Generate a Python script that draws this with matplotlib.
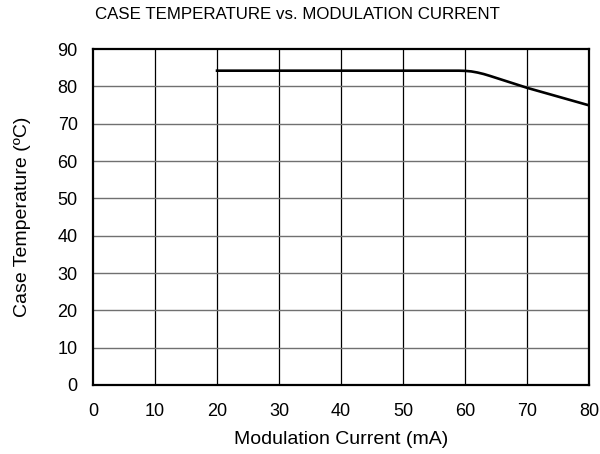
import matplotlib
matplotlib.use("Agg")
import matplotlib.pyplot as plt

# data
current_ma = [20, 59, 60, 61, 62, 63, 64, 70, 80]
case_temp_c = [84.2, 84.2, 84.15, 84.0, 83.7, 83.3, 82.8, 79.6, 74.9]

x_ticks = [0, 10, 20, 30, 40, 50, 60, 70, 80]
y_ticks = [0, 10, 20, 30, 40, 50, 60, 70, 80, 90]

plt.rcParams["font.family"] = ["Liberation Sans", "DejaVu Sans"]

fig = plt.figure(figsize=(6.0, 4.54), dpi=100)
ax = fig.add_axes([0.155, 0.152, 0.827, 0.740])

for xv in x_ticks[1:-1]:
    ax.axvline(xv, color="black", lw=0.9, zorder=1)
for yv in y_ticks[1:-1]:
    ax.axhline(yv, color="#707070", lw=1.0, zorder=1)

ax.plot(current_ma, case_temp_c, color="black", lw=1.9, zorder=3)

ax.set_xlim(0, 80)
ax.set_ylim(0, 90)
ax.set_xticks(x_ticks)
ax.set_yticks(y_ticks)
ax.tick_params(length=0, labelsize=13)
ax.tick_params(axis="x", pad=13)
ax.tick_params(axis="y", pad=11)
for s in ax.spines.values():
    s.set_linewidth(1.6)
    s.set_color("black")

ax.set_xlabel("Modulation Current (mA)", fontsize=14)
ax.set_ylabel("Case Temperature (\u00baC)", fontsize=14)
ax.xaxis.set_label_coords(0.5, -0.138)
ax.yaxis.set_label_coords(-0.124, 0.5)
fig.text(0.495, 0.968, "CASE TEMPERATURE vs. MODULATION CURRENT", ha="center", va="center", fontsize=12.2)

fig.savefig("out.png", dpi=100)
